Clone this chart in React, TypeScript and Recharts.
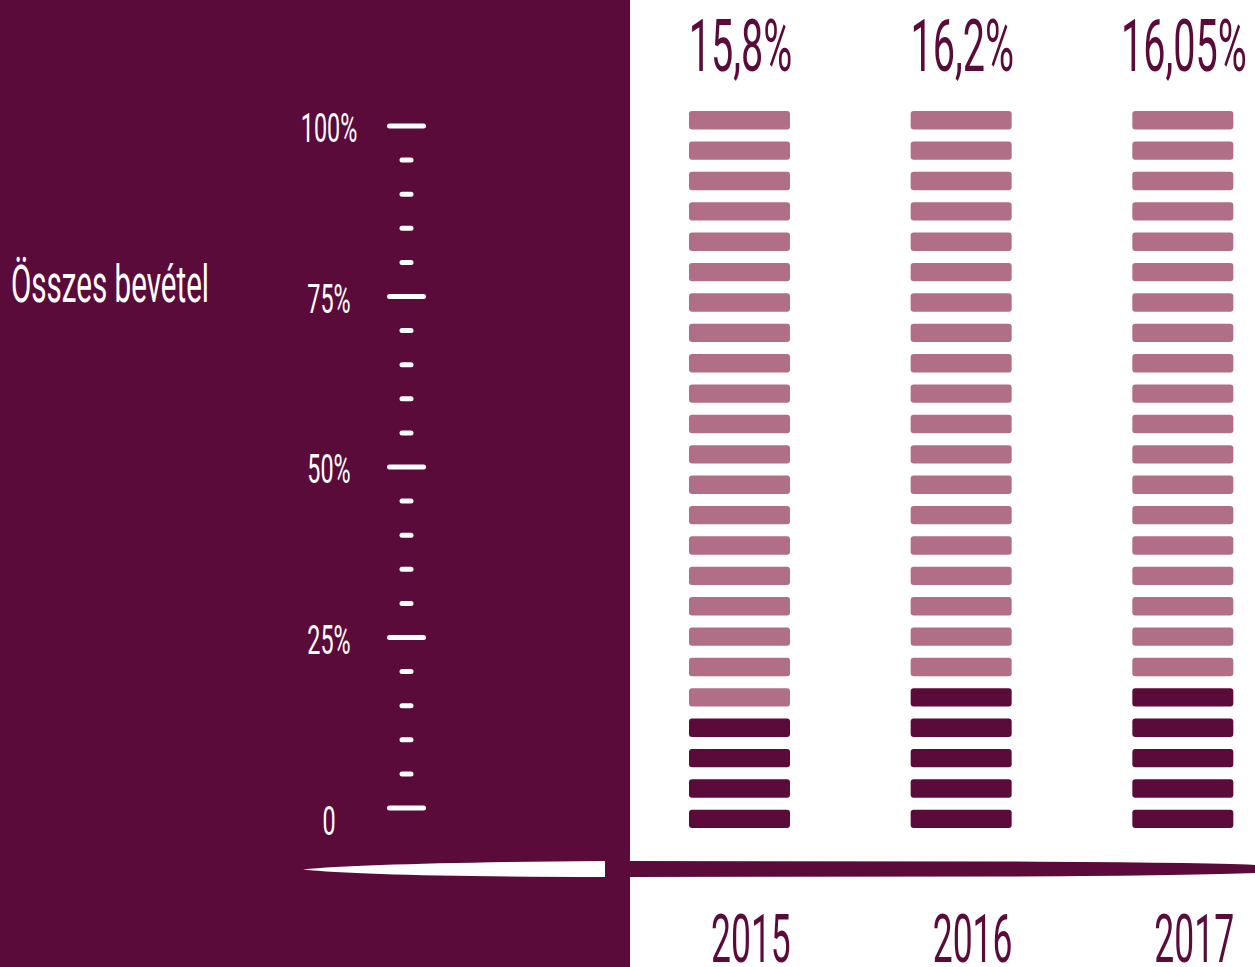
import { ComposedChart, Bar, Line, XAxis, YAxis, LabelList } from "recharts";

const years = ["2015", "2016", "2017"];
const shareLabels = ["15,8%", "16,2%", "16,05%"];
const shareValues = [15.8, 16.2, 16.05];
// each column is 24 segments: dark = share, light = rest
const darkSegments = [4, 5, 5];
const lightSegments = [20, 19, 19];
const pctTicks = [0, 5, 10, 15, 20, 25, 30, 35, 40, 45, 50, 55, 60, 65, 70, 75, 80, 85, 90, 95, 100];
const pctTickLabels: Record<number, string> = { 0: "0", 25: "25%", 50: "50%", 75: "75%", 100: "100%" };

const PURPLE = "#5b0b3a";
const PINK = "#b06e87";
const FONT = "Roboto, 'DejaVu Sans', sans-serif";
const SQUEEZE = 0.55;

const data = years.map((year, i) => ({
	year,
	share: shareLabels[i],
	shareValue: shareValues[i],
	dark: darkSegments[i],
	light: lightSegments[i],
}));

const segmentShape = (key: "dark" | "light") => (props: any) => {
	const { x, y, width, height, fill, payload } = props;
	const count = payload[key];
	const slot = height / count;
	const gap = 12;
	return (
		<g>
			{Array.from({ length: count }).map((_, i) => (
				<rect
					key={i}
					x={x}
					y={y + i * slot + gap / 2}
					width={width}
					height={slot - gap}
					rx={3}
					ry={3}
					fill={fill}
				/>
			))}
		</g>
	);
};

const PctTick = (props: any) => {
	const { x, y, payload } = props;
	const major = payload.value % 25 === 0;
	const mid = x - 222.5;
	const half = major ? 17 : 4.5;
	return (
		<g>
			<line
				x1={mid - half}
				x2={mid + half}
				y1={y}
				y2={y}
				stroke="#fff"
				strokeWidth={5}
				strokeLinecap="round"
			/>
			{major && (
				<text
					transform={`translate(${x - 300},${y + (payload.value === 0 ? 27 : 16)}) scale(0.57,1)`}
					textAnchor="middle"
					fill="#fff"
					fontSize={41}
					fontWeight={400}
					fontFamily={FONT}
				>
					{pctTickLabels[payload.value]}
				</text>
			)}
		</g>
	);
};

const YearTick = (props: any) => {
	const { x, y, payload } = props;
	return (
		<text
			transform={`translate(${x + 51},${y + 128}) scale(0.53,1)`}
			textAnchor="end"
			fill={PURPLE}
			fontSize={67}
			fontWeight={400}
			fontFamily={FONT}
		>
			{payload.value}
		</text>
	);
};

const ShareLabel = (props: any) => {
	const { x, y, width, value } = props;
	return (
		<text
			transform={`translate(${x + width / 2 + 1},${y - 34}) scale(${SQUEEZE},1)`}
			textAnchor="middle"
			fill={PURPLE}
			fontSize={72}
			fontWeight={400}
			fontFamily={FONT}
		>
			{value}
		</text>
	);
};

export default function App() {
	return (
		<div style={{ position: "absolute", left: 0, top: 0, width: 1255, height: 967, background: "#fff", overflow: "hidden" }}>
			<svg width={1255} height={967} style={{ position: "absolute", left: 0, top: 0 }}>
				<rect x={0} y={0} width={630} height={967} fill={PURPLE} />
				<path d="M303,869.5 Q370,863 605,861 L605,877 Q370,876.5 303,869.5 Z" fill="#fff" />
				<path d="M630,861 L1000,861.5 Q1200,862.5 1255,865 L1255,873 Q1200,875.5 1000,876.5 L630,877 Z" fill={PURPLE} />
				<text
					transform={`translate(11,302) scale(0.58,1)`}
					fill="#fff"
					fontSize={51}
					fontWeight={400}
					fontFamily={FONT}
				>
					Összes bevétel
				</text>
			</svg>
			<div style={{ position: "absolute", left: 0, top: 0 }}>
				<ComposedChart
					width={1255}
					height={967}
					data={data}
					margin={{ top: 105, right: -39, bottom: 0, left: 0 }}
					barSize={101}
				>
					<XAxis
						dataKey="year"
						height={133}
						axisLine={false}
						tickLine={false}
						tickSize={0}
						tickMargin={0}
						tick={<YearTick />}
						interval={0}
					/>
					<YAxis yAxisId="seg" domain={[0, 24]} hide />
					<YAxis
						yAxisId="pct"
						type="number"
						domain={[-3.81, 103.08]}
						allowDataOverflow
						ticks={pctTicks}
						interval={0}
						width={629}
						axisLine={false}
						tickLine={false}
						tickSize={0}
						tickMargin={0}
						tick={<PctTick />}
					/>
					<Bar
						yAxisId="seg"
						dataKey="dark"
						stackId="s"
						fill={PURPLE}
						shape={segmentShape("dark")}
						isAnimationActive={false}
					/>
					<Bar
						yAxisId="seg"
						dataKey="light"
						stackId="s"
						fill={PINK}
						shape={segmentShape("light")}
						isAnimationActive={false}
					>
						<LabelList dataKey="share" content={<ShareLabel />} />
					</Bar>
					<Line
						yAxisId="pct"
						dataKey="shareValue"
						stroke="none"
						dot={false}
						activeDot={false}
						isAnimationActive={false}
					/>
				</ComposedChart>
			</div>
		</div>
	);
}
